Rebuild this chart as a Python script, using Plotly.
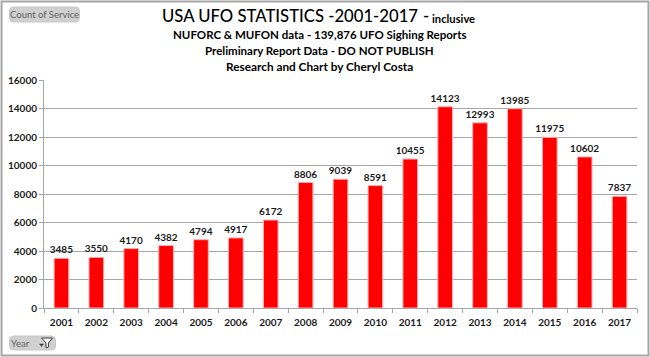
import plotly.graph_objects as go

years = [str(y) for y in range(2001, 2018)]
counts = [3485, 3550, 4170, 4382, 4794, 4917, 6172, 8806, 9039, 8591, 10455, 14123, 12993, 13985, 11975, 10602, 7837]
y_ticks = [0, 2000, 4000, 6000, 8000, 10000, 12000, 14000, 16000]
FONT = "Lato, 'Open Sans', sans-serif"
W, H = 650, 357
L, R, T, B = 43.5, 637, 80, 308


def px(x):
    return (x - L) / (R - L)


def py(y):
    return (B - y) / (B - T)


def rounded(x0, y0, x1, y1, r):
    return (
        f"M {px(x0 + r)} {py(y0)} L {px(x1 - r)} {py(y0)} Q {px(x1)} {py(y0)} {px(x1)} {py(y0 + r)} "
        f"L {px(x1)} {py(y1 - r)} Q {px(x1)} {py(y1)} {px(x1 - r)} {py(y1)} "
        f"L {px(x0 + r)} {py(y1)} Q {px(x0)} {py(y1)} {px(x0)} {py(y1 - r)} "
        f"L {px(x0)} {py(y0 + r)} Q {px(x0)} {py(y0)} {px(x0 + r)} {py(y0)} Z"
    )


fig = go.Figure(go.Bar(
    x=years, y=counts, text=counts, textposition="outside", cliponaxis=False, constraintext="none",
    marker=dict(color="#ff0000", line=dict(color="#ffb0b0", width=1)),
    textfont=dict(family=FONT, size=10, color="#1a1a1a", weight="bold"),
    width=0.42,
))

shapes = [
    dict(type="rect", xref="paper", yref="paper", x0=px(1), x1=px(648.5), y0=py(355.5), y1=py(1.5),
         line=dict(color="#a6a6a6", width=2), fillcolor="rgba(0,0,0,0)", layer="below"),
    dict(type="path", xref="paper", yref="paper", path=rounded(9, 7, 79, 22, 4),
         line=dict(color="#c8c8c8", width=1), fillcolor="#d0d0d0", layer="below"),
    dict(type="path", xref="paper", yref="paper", path=rounded(9, 336, 55, 350, 4),
         line=dict(color="#c8c8c8", width=1), fillcolor="#d0d0d0", layer="below"),
    dict(type="path", xref="paper", yref="paper",
         path=f"M {px(41)} {py(338)} L {px(52)} {py(338)} L {px(48)} {py(343)} L {px(48)} {py(347)} L {px(45.5)} {py(348)} L {px(45.5)} {py(343)} Z",
         line=dict(color="#404040", width=1), fillcolor="#f4f4f4"),
    dict(type="path", xref="paper", yref="paper",
         path=f"M {px(39)} {py(344)} L {px(43)} {py(344)} L {px(41)} {py(346.5)} Z",
         line=dict(color="#404040", width=0.5), fillcolor="#404040"),
]


def note(text, x, y, size, color="#000000", weight="bold", anchor="center"):
    return dict(text=text, xref="paper", yref="paper", x=px(x), y=py(y), xanchor=anchor, yanchor="middle",
                showarrow=False, font=dict(family=FONT, size=size, color=color, weight=weight))


annotations = [
    note("USA UFO STATISTICS -2001-2017", 290, 16, 16.7, weight=500),
    note("-", 421, 16, 16.7, weight=500, anchor="left"),
    note("inclusive", 430, 18, 11.2, anchor="left"),
    note("NUFORC & MUFON data - 139,876 UFO Sighing Reports", 319.5, 35, 11.5),
    note("Preliminary Report Data - DO NOT PUBLISH", 319.5, 50, 11.5),
    note("Research and Chart by Cheryl Costa", 319.5, 66, 11.8),
    note("Count of Service", 44, 15, 9.5, color="#606060", weight="normal"),
    note("Year", 20, 343, 9.5, color="#606060", weight="normal"),
]

axis_font = dict(family=FONT, size=10, color="#1a1a1a", weight="bold")
fig.update_layout(
    width=W, height=H, autosize=False, showlegend=False,
    paper_bgcolor="#ffffff", plot_bgcolor="#ffffff",
    margin=dict(l=L, r=W - R, t=T, b=H - B),
    shapes=shapes, annotations=annotations,
    font=dict(family=FONT),
    xaxis=dict(type="category", automargin=False, showline=True, linecolor="#a6a6a6", linewidth=1, showgrid=False,
               ticks="outside", ticklen=4, tickcolor="#a6a6a6", tickson="boundaries", ticklabelstandoff=5,
               tickfont=axis_font),
    yaxis=dict(range=[0, 16000], automargin=False, tickvals=y_ticks, tickformat="d", showline=True,
               linecolor="#a6a6a6", linewidth=1, gridcolor="#a6a6a6", gridwidth=1, ticks="outside", ticklen=4,
               tickcolor="#a6a6a6", zeroline=False, tickfont=axis_font),
)

fig.write_html("out.html", post_script="document.body.style.margin='0';", config={"displayModeBar": False})
